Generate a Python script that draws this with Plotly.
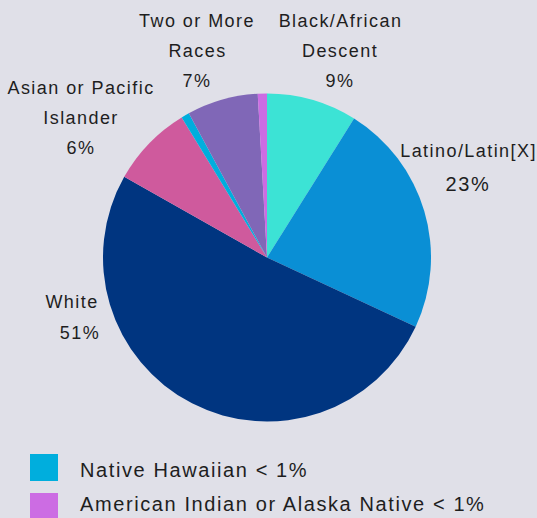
import plotly.graph_objects as go

# ---- data ----
categories = ["Black/African Descent", "Latino/Latin[X]", "White",
              "Asian or Pacific Islander", "Native Hawaiian",
              "Two or More Races", "American Indian or Alaska Native"]
values = [8.9, 23.0, 51.2, 8.1, 0.8, 7.0, 0.9]
pct_labels = ["9%", "23%", "51%", "6%", "< 1%", "7%", "< 1%"]
colors = ["#3ce3d5", "#0a8fd5", "#003580", "#cf5a9d",
          "#00aedd", "#8067b7", "#cc6ce3"]
legend_items = [4, 6]  # indices of categories shown in the legend

W, H = 537, 518
BG = "#e0e0e8"
TXT = "#1e1e1e"
FONT = "Liberation Sans, Arial, sans-serif"


def px(x):
    return x / W


def py(y):
    return 1 - y / H


fig = go.Figure(go.Pie(
    labels=categories,
    values=values,
    marker=dict(colors=colors, line=dict(width=0)),
    sort=False,
    direction="clockwise",
    rotation=0,
    textinfo="none",
    hovertemplate="%{label}: %{percent}<extra></extra>",
    showlegend=False,
    domain=dict(x=[px(103), px(431)], y=[py(421.5), py(93.5)]),
))

annotations = []


def add_text(text, x, y, size=18, xanchor="center", align="center"):
    annotations.append(dict(
        text=text, x=px(x), y=py(y), xref="paper", yref="paper",
        xanchor=xanchor, yanchor="middle", align=align, showarrow=False,
        font=dict(family=FONT, size=size, color=TXT)))


# slice labels (name lines + percentage)
label_layout = {
    0: (["Black/African", "Descent"], 340, [21, 51], 81, 18),
    1: (["Latino/Latin[X]"], 468, [151], 184, 20),
    2: (["White"], 72, [301.5], 332.5, 18),
    3: (["Asian or Pacific", "Islander"], 81, [88, 118], 148, 18),
    5: (["Two or More", "Races"], 197, [21, 51], 81, 18),
}
for i, (lines, cx, ys, ypct, psize) in label_layout.items():
    for line, yy in zip(lines, ys):
        add_text(line, cx, yy)
    pcx = 80 if i == 2 else cx
    add_text(pct_labels[i], pcx, ypct, size=psize)

# custom legend for the tiny slices
shapes = []
legend_rows = [(454, 481, 470), (493, 520, 504)]
for idx, (y0, y1, yt) in zip(legend_items, legend_rows):
    shapes.append(dict(type="rect", xref="paper", yref="paper",
                       x0=px(30), x1=px(58), y0=py(y1), y1=py(y0),
                       fillcolor=colors[idx], line=dict(width=0)))
    add_text(f"{categories[idx]} {pct_labels[idx]}", 78, yt, size=20,
             xanchor="left", align="left")

fig.update_layout(
    width=W, height=H,
    margin=dict(l=0, r=0, t=0, b=0),
    paper_bgcolor=BG, plot_bgcolor=BG,
    annotations=annotations,
    shapes=shapes,
    font=dict(family=FONT, color=TXT),
)

post = """
document.body.style.margin = '0';
document.body.style.background = '%s';
var st = document.createElement('style');
st.textContent = '.js-plotly-plot .annotation-text{letter-spacing:0.08em;}';
document.head.appendChild(st);
""" % BG

fig.write_html("out.html", post_script=post,
               config={"displayModeBar": False})
